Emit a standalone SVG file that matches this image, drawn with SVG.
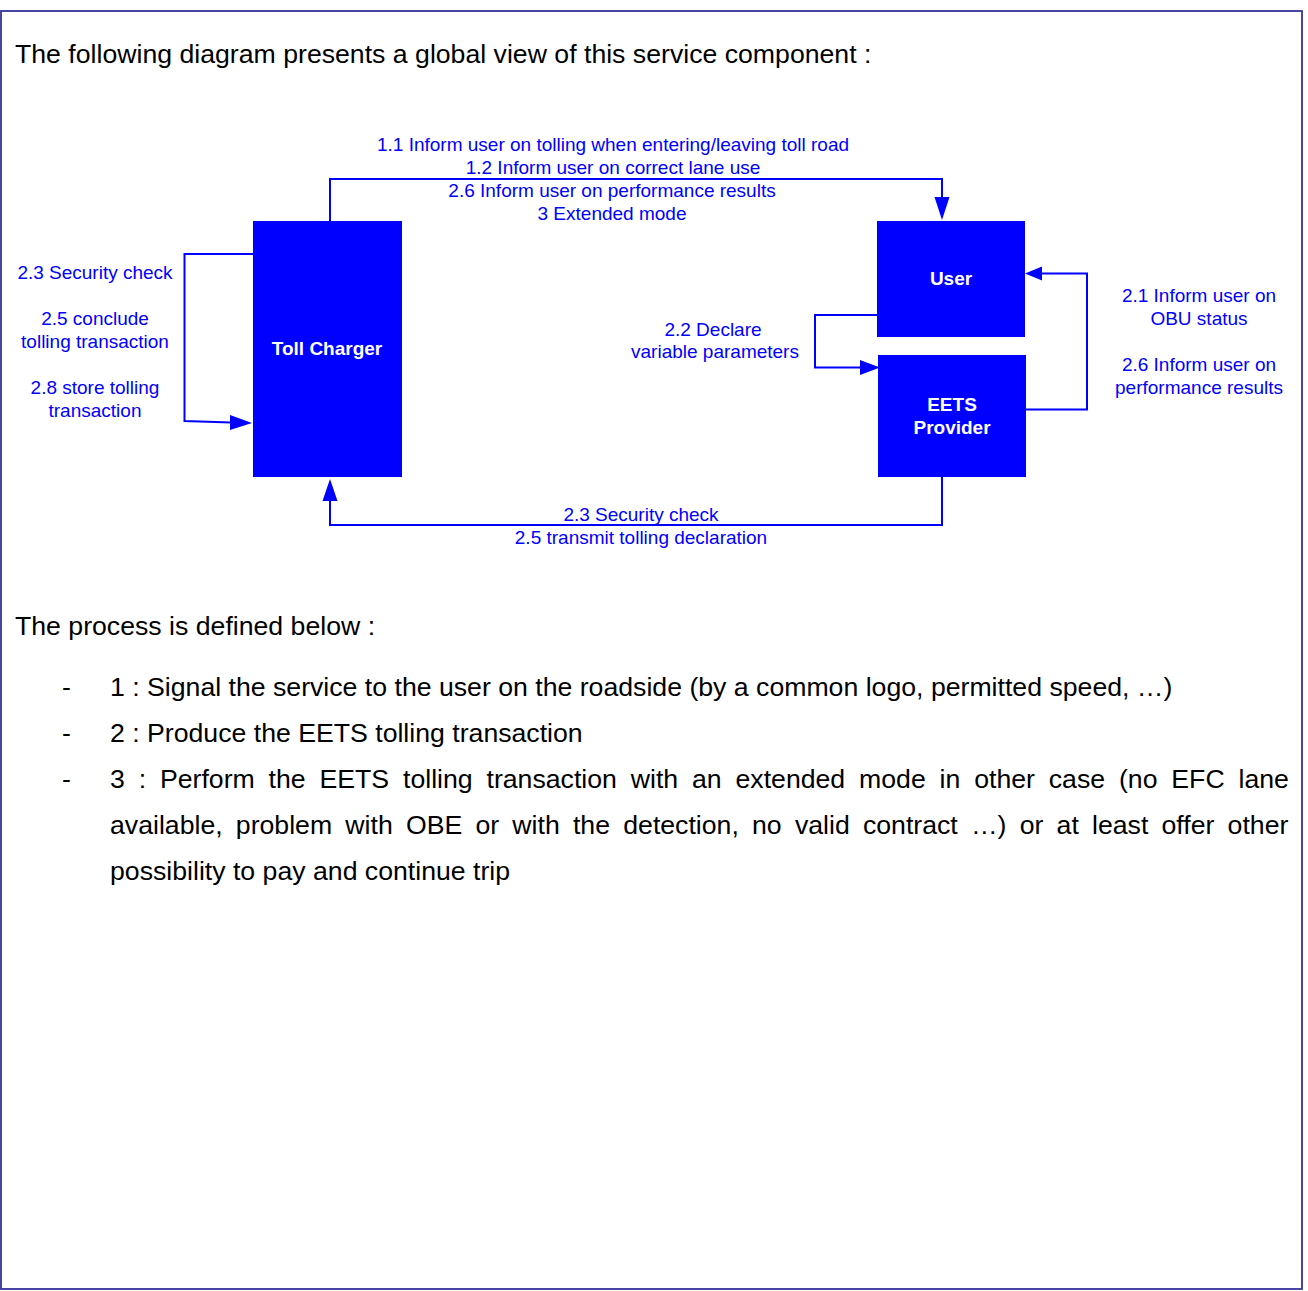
<svg xmlns="http://www.w3.org/2000/svg" width="1308" height="1291" viewBox="0 0 1308 1291">
  <style>
    .frame { fill: #ffffff; stroke: #333399; stroke-width: 1.8; }
    .body { font-family: "Liberation Sans", Arial, sans-serif; font-size: 26.67px; fill: #000000; }
    .lbl { font-family: "Liberation Sans", Arial, sans-serif; font-size: 19px; fill: #0000ff; text-anchor: middle; }
    .box { fill: #0000ff; }
    .boxtxt { font-family: "Liberation Sans", Arial, sans-serif; font-size: 19px; font-weight: bold; fill: #ffffff; text-anchor: middle; }
    .wire { fill: none; stroke: #0000ff; stroke-width: 2; }
    .head { fill: #0000ff; }
  </style>

  <!-- page frame -->
  <rect class="frame" x="1" y="11" width="1301" height="1278"/>

  <text class="body" x="15" y="63">The following diagram presents a global view of this service component :</text>

  <!-- nodes -->
  <g id="toll-charger">
    <rect class="box" x="253" y="221" width="149" height="256"/>
    <text class="boxtxt" x="327" y="355">Toll Charger</text>
  </g>
  <g id="user">
    <rect class="box" x="877" y="221" width="148" height="116"/>
    <text class="boxtxt" x="951" y="285">User</text>
  </g>
  <g id="eets-provider">
    <rect class="box" x="878" y="355" width="148" height="122"/>
    <text class="boxtxt" x="952" y="411">EETS</text>
    <text class="boxtxt" x="952" y="434">Provider</text>
  </g>

  <!-- connectors -->
  <g id="connectors">
    <!-- Toll Charger -> User -->
    <path class="wire" d="M330,221 V179 H942 V198"/>
    <polygon class="head" points="934.5,197 949.5,197 942,220"/>

    <!-- Toll Charger self loop -->
    <path class="wire" d="M253,254 H184.5 V421 L231,422.5"/>
    <polygon class="head" points="230,415 230,430 252,423"/>

    <!-- User -> EETS Provider -->
    <path class="wire" d="M877,315 H815 V367.5 H861"/>
    <polygon class="head" points="860,360 860,375 880,367.5"/>

    <!-- EETS Provider -> User -->
    <path class="wire" d="M1026,409.5 H1087 V273.5 H1041"/>
    <polygon class="head" points="1042,266.5 1042,280.5 1025,273.5"/>

    <!-- EETS Provider -> Toll Charger -->
    <path class="wire" d="M942,477 V525 H330 V500"/>
    <polygon class="head" points="322.5,501 337.5,501 330,479"/>
  </g>

  <!-- connector labels -->
  <g id="labels">
    <text class="lbl" x="613" y="151">1.1 Inform user on tolling when entering/leaving toll road</text>
    <text class="lbl" x="613" y="174">1.2 Inform user on correct lane use</text>
    <text class="lbl" x="612" y="197">2.6 Inform user on performance results</text>
    <text class="lbl" x="612" y="220">3 Extended mode</text>

    <text class="lbl" x="95" y="279">2.3 Security check</text>
    <text class="lbl" x="95" y="325">2.5 conclude</text>
    <text class="lbl" x="95" y="348">tolling transaction</text>
    <text class="lbl" x="95" y="394">2.8 store tolling</text>
    <text class="lbl" x="95" y="417">transaction</text>

    <text class="lbl" x="713" y="336">2.2 Declare</text>
    <text class="lbl" x="715" y="358">variable parameters</text>

    <text class="lbl" x="1199" y="302">2.1 Inform user on</text>
    <text class="lbl" x="1199" y="325">OBU status</text>
    <text class="lbl" x="1199" y="371">2.6 Inform user on</text>
    <text class="lbl" x="1199" y="394">performance results</text>

    <text class="lbl" x="641" y="521">2.3 Security check</text>
    <text class="lbl" x="641" y="544">2.5 transmit tolling declaration</text>
  </g>

  <!-- process description -->
  <text class="body" x="15" y="635">The process is defined below :</text>
  <text class="body" x="62" y="696">-</text>
  <text class="body" x="110" y="696">1 : Signal the service to the user on the roadside (by a common logo, permitted speed, …)</text>
  <text class="body" x="62" y="742">-</text>
  <text class="body" x="110" y="742">2 : Produce the EETS tolling transaction</text>
  <text class="body" x="62" y="788">-</text>
  <text class="body" x="110" y="788" word-spacing="6.45">3 : Perform the EETS tolling transaction with an extended mode in other case (no EFC lane</text>
  <text class="body" x="110" y="834" word-spacing="5.8">available, problem with OBE or with the detection, no valid contract …) or at least offer other</text>
  <text class="body" x="110" y="880">possibility to pay and continue trip</text>
</svg>
